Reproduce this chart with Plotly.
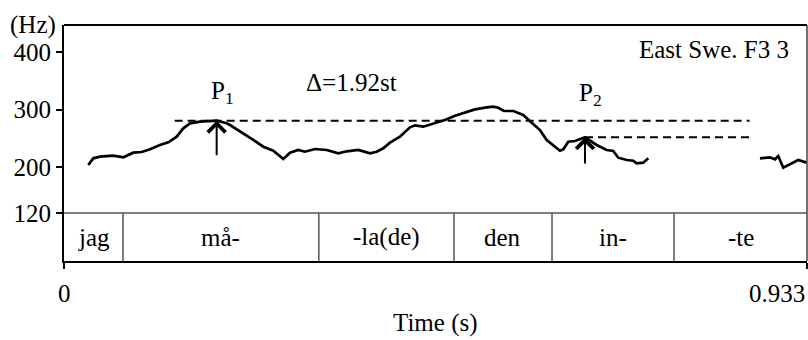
import plotly.graph_objects as go

# ---------------- data ----------------
time_s = [0.0305, 0.0368, 0.0452, 0.0619, 0.0745, 0.0870, 0.0976, 0.1080, 0.1205, 0.1310,
          0.1415, 0.1498, 0.1582, 0.1708, 0.1917, 0.2043, 0.2084, 0.2251, 0.2377, 0.2503,
          0.2628, 0.2754, 0.2838, 0.2942, 0.3026, 0.3152, 0.3299, 0.3444, 0.3550, 0.3695,
          0.3842, 0.3926, 0.4009, 0.4093, 0.4219, 0.4344, 0.4407, 0.4512, 0.4637, 0.4784,
          0.4910, 0.5035, 0.5161, 0.5308, 0.5391, 0.5453, 0.5525, 0.5642, 0.5767, 0.5873,
          0.5977, 0.6061, 0.6165, 0.6228, 0.6270, 0.6332, 0.6416, 0.6542, 0.6689, 0.6814,
          0.6897, 0.6960, 0.7066, 0.7148, 0.7191, 0.7274, 0.7337,
          None,
          0.8739, 0.8865, 0.8928, 0.8969, 0.9032, 0.9116, 0.9220, 0.9326]
f0_hz = [203.5, 215.1, 217.9, 219.7, 216.9, 224.9, 226.1, 230.8, 238.3, 243.0,
         252.7, 267.3, 276.0, 278.8, 280.5, 276.0, 273.0, 258.6, 247.0, 235.3,
         228.3, 213.9, 224.9, 229.6, 226.6, 231.3, 229.6, 223.8, 227.3, 229.6,
         223.8, 226.6, 232.5, 242.3, 252.7, 269.0, 272.5, 270.1, 276.0, 281.7,
         289.2, 295.1, 300.3, 303.8, 304.9, 303.1, 297.4, 297.4, 290.4, 277.0,
         264.3, 247.0, 235.3, 228.3, 230.8, 244.0, 245.2, 251.7, 238.3, 229.6,
         227.8, 216.2, 212.2, 211.0, 206.4, 207.5, 215.1,
         None,
         215.1, 216.9, 213.4, 219.1, 198.8, 205.2, 212.2, 207.5]

# peaks P1 and P2: time, F0, arrow-foot F0
peak_labels = ["P<sub>1</sub>", "P<sub>2</sub>"]
peak_time = [0.1917, 0.6542]
peak_hz = [280.5, 251.7]
arrow_foot_hz = [217.9, 203.5]
dash_start = [0.139, 0.6542]
dash_end = [0.861, 0.861]

delta_text = "Δ=1.92st"
title_text = "East Swe. F3 3"

# syllable tier
syllables = ["jag", "må-", "-la(de)", "den", "in-", "-te"]
syl_bounds = [0.0, 0.0741, 0.320, 0.4897, 0.6128, 0.766, 0.933]

y_tick_vals = [120, 200, 300, 400]
x_tick_vals = [0, 0.933]
x_tick_text = ["0", "0.933"]

# ---------------- layout ----------------
X_MIN, X_MAX = 0.0, 0.933
Y_MIN, Y_MAX = 36.5, 447.0
TIER_TOP = 120
FONT = "Liberation Serif"
FS = 25
TXT = dict(family=FONT, size=FS, color="black")

fig = go.Figure()
fig.add_trace(go.Scatter(x=time_s, y=f0_hz, mode="lines",
                         line=dict(color="black", width=2.7),
                         connectgaps=False, hoverinfo="skip", showlegend=False))

# dashed reference lines
for i in range(2):
    fig.add_trace(go.Scatter(x=[dash_start[i], dash_end[i]], y=[peak_hz[i], peak_hz[i]],
                             mode="lines", line=dict(color="black", width=2, dash="8px,5px"),
                             hoverinfo="skip", showlegend=False))

shapes = []
# tier top line
shapes.append(dict(type="line", xref="x", yref="y", x0=X_MIN, x1=X_MAX, y0=TIER_TOP, y1=TIER_TOP,
                   line=dict(color="#555", width=1.5)))
for b in syl_bounds[1:-1]:
    shapes.append(dict(type="line", xref="x", yref="y", x0=b, x1=b, y0=Y_MIN, y1=TIER_TOP,
                       line=dict(color="#555", width=1.5)))
# top and right borders
shapes.append(dict(type="line", xref="paper", yref="paper", x0=0, x1=1, y0=1, y1=1,
                   line=dict(color="black", width=2)))
shapes.append(dict(type="line", xref="paper", yref="paper", x0=1, x1=1, y0=0, y1=1,
                   line=dict(color="#444", width=1.5)))

annotations = []
for i in range(len(syllables)):
    annotations.append(dict(x=(syl_bounds[i] + syl_bounds[i + 1]) / 2, y=(Y_MIN + TIER_TOP) / 2,
                            xref="x", yref="y", text=syllables[i], showarrow=False, font=TXT))
label_shift = [(6, 28), (6, 43)]
for i in range(2):
    annotations.append(dict(x=peak_time[i], y=peak_hz[i], ax=peak_time[i], ay=arrow_foot_hz[i],
                            xref="x", yref="y", axref="x", ayref="y", text="", showarrow=True,
                            arrowhead=4, arrowsize=1.7, arrowwidth=2, arrowcolor="black", standoff=0))
    annotations.append(dict(x=peak_time[i], y=peak_hz[i], xref="x", yref="y",
                            xshift=label_shift[i][0], yshift=label_shift[i][1],
                            text=peak_labels[i], showarrow=False, font=TXT))
annotations.append(dict(x=0.3616, y=1, xref="x", yref="paper", yanchor="middle", yshift=-57,
                        text=delta_text, showarrow=False, font=TXT))
annotations.append(dict(x=0.9785, y=1, xref="paper", yref="paper", xanchor="right", yanchor="middle",
                        yshift=-24, text=title_text, showarrow=False, font=TXT))
annotations.append(dict(x=0, y=1, xref="paper", yref="paper", xanchor="right", yanchor="middle",
                        xshift=-6, text="(Hz)", showarrow=False, font=TXT))
annotations.append(dict(x=x_tick_vals[0], y=0, xref="x", yref="paper", yanchor="middle", yshift=-32,
                        text=x_tick_text[0], showarrow=False, font=TXT))
annotations.append(dict(x=x_tick_vals[1], y=0, xref="x", yref="paper", xanchor="right",
                        yanchor="middle", yshift=-32, text=x_tick_text[1], showarrow=False, font=TXT))
annotations.append(dict(x=0.5, y=0, xref="paper", yref="paper", yanchor="middle", yshift=-62,
                        text="Time (s)", showarrow=False, font=TXT))

fig.update_layout(
    width=808, height=340,
    margin=dict(l=64, r=1, t=25, b=79),
    paper_bgcolor="white", plot_bgcolor="white",
    shapes=shapes, annotations=annotations,
    xaxis=dict(range=[X_MIN, X_MAX], showgrid=False, zeroline=False,
               showline=True, linecolor="black", linewidth=2,
               ticks="outside", ticklen=6, tickwidth=1.5, tickcolor="black",
               tickvals=x_tick_vals, showticklabels=False),
    yaxis=dict(range=[Y_MIN, Y_MAX], showgrid=False, zeroline=False,
               showline=True, linecolor="black", linewidth=2,
               ticks="outside", ticklen=6, tickwidth=1.5, tickcolor="black",
               tickvals=y_tick_vals, ticktext=[str(v) for v in y_tick_vals],
               tickfont=TXT),
    font=TXT,
)

fig.write_html("out.html", config={"displayModeBar": False},
               post_script="document.body.style.margin='0px';")
